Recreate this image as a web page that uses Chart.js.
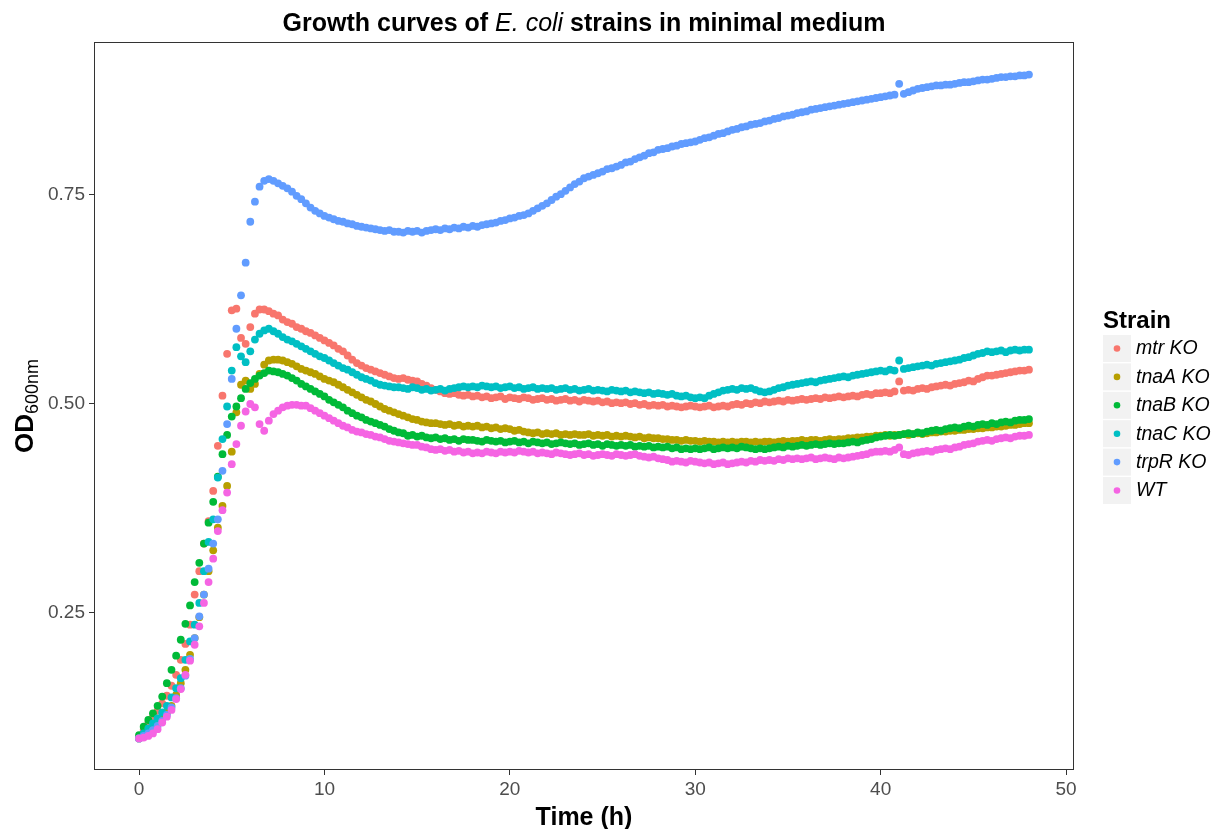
<!DOCTYPE html>
<html>
<head>
<meta charset="utf-8">
<script src="https://cdn.jsdelivr.net/npm/chart.js@4/dist/chart.umd.min.js"></script>
<style>
  body { margin: 0; background: #fff; }
</style>
</head>
<body>
<canvas id="growthChart" width="1222" height="829"></canvas>
<script>
// sampling times (h)
const times = [
  0, 0.25, 0.5, 0.75, 1, 1.25, 1.5, 1.75,
  2, 2.25, 2.5, 2.75, 3, 3.25, 3.5, 3.75,
  4, 4.25, 4.5, 4.75, 5, 5.25, 5.5, 5.75,
  6, 6.25, 6.5, 6.75, 7, 7.25, 7.5, 7.75,
  8, 8.25, 8.5, 8.75, 9, 9.25, 9.5, 9.75,
  10, 10.25, 10.5, 10.75, 11, 11.25, 11.5, 11.75,
  12, 12.25, 12.5, 12.75, 13, 13.25, 13.5, 13.75,
  14, 14.25, 14.5, 14.75, 15, 15.25, 15.5, 15.75,
  16, 16.25, 16.5, 16.75, 17, 17.25, 17.5, 17.75,
  18, 18.25, 18.5, 18.75, 19, 19.25, 19.5, 19.75,
  20, 20.25, 20.5, 20.75, 21, 21.25, 21.5, 21.75,
  22, 22.25, 22.5, 22.75, 23, 23.25, 23.5, 23.75,
  24, 24.25, 24.5, 24.75, 25, 25.25, 25.5, 25.75,
  26, 26.25, 26.5, 26.75, 27, 27.25, 27.5, 27.75,
  28, 28.25, 28.5, 28.75, 29, 29.25, 29.5, 29.75,
  30, 30.25, 30.5, 30.75, 31, 31.25, 31.5, 31.75,
  32, 32.25, 32.5, 32.75, 33, 33.25, 33.5, 33.75,
  34, 34.25, 34.5, 34.75, 35, 35.25, 35.5, 35.75,
  36, 36.25, 36.5, 36.75, 37, 37.25, 37.5, 37.75,
  38, 38.25, 38.5, 38.75, 39, 39.25, 39.5, 39.75,
  40, 40.25, 40.5, 40.75, 41, 41.25, 41.5, 41.75,
  42, 42.25, 42.5, 42.75, 43, 43.25, 43.5, 43.75,
  44, 44.25, 44.5, 44.75, 45, 45.25, 45.5, 45.75,
  46, 46.25, 46.5, 46.75, 47, 47.25, 47.5, 47.75,
  48
];

// OD600 per strain, one value per sampling time
const mtrKO = [
  0.102, 0.110, 0.118, 0.126, 0.133, 0.142, 0.151, 0.163,
  0.176, 0.194, 0.213, 0.236, 0.272, 0.300, 0.333, 0.360,
  0.396, 0.450, 0.510, 0.560, 0.612, 0.614, 0.579, 0.572,
  0.592, 0.608, 0.613, 0.613, 0.611, 0.608, 0.606, 0.601,
  0.598, 0.596, 0.592, 0.590, 0.587, 0.585, 0.582, 0.579,
  0.576, 0.573, 0.570, 0.566, 0.563, 0.558, 0.553, 0.549,
  0.546, 0.543, 0.541, 0.539, 0.537, 0.535, 0.533, 0.531,
  0.530, 0.531, 0.529, 0.528, 0.527, 0.524, 0.522, 0.519,
  0.517, 0.515, 0.513, 0.512, 0.513, 0.511, 0.510, 0.511,
  0.509, 0.510, 0.508, 0.509, 0.507, 0.508, 0.509, 0.506,
  0.508, 0.507, 0.506, 0.508, 0.507, 0.505, 0.506, 0.507,
  0.505, 0.506, 0.504, 0.505, 0.506, 0.504, 0.505, 0.503,
  0.505, 0.504, 0.503, 0.504, 0.502, 0.503, 0.501, 0.502,
  0.501, 0.502, 0.500, 0.501, 0.499, 0.500, 0.498, 0.499,
  0.498, 0.499, 0.497, 0.498, 0.497, 0.496, 0.497, 0.498,
  0.497, 0.496, 0.497, 0.498, 0.496, 0.497, 0.498, 0.497,
  0.499, 0.500, 0.499, 0.501, 0.500, 0.502, 0.501, 0.503,
  0.502, 0.503, 0.504, 0.503, 0.505, 0.504, 0.505, 0.506,
  0.505, 0.506, 0.507, 0.506, 0.508, 0.507, 0.508, 0.509,
  0.508, 0.509, 0.510, 0.509, 0.511, 0.512, 0.511, 0.513,
  0.513, 0.514, 0.513, 0.515, 0.527, 0.516, 0.517, 0.516,
  0.518, 0.519, 0.518, 0.520, 0.521, 0.522, 0.523, 0.522,
  0.524, 0.525, 0.526, 0.528, 0.527, 0.530, 0.532, 0.534,
  0.534, 0.535, 0.536, 0.537, 0.538, 0.539, 0.540, 0.540,
  0.541
];

const tnaAKO = [
  0.100, 0.104, 0.108, 0.113, 0.118, 0.124, 0.131, 0.139,
  0.152, 0.166, 0.182, 0.200, 0.220, 0.245, 0.272, 0.300,
  0.325, 0.352, 0.378, 0.402, 0.443, 0.490, 0.523, 0.528,
  0.518, 0.524, 0.536, 0.547, 0.552, 0.553, 0.553, 0.552,
  0.550, 0.548, 0.545, 0.542, 0.540, 0.538, 0.536, 0.533,
  0.530, 0.528, 0.526, 0.523, 0.520, 0.517, 0.514, 0.511,
  0.508, 0.505, 0.503, 0.500, 0.497, 0.494, 0.492, 0.490,
  0.488, 0.486, 0.484, 0.482, 0.481, 0.479, 0.478, 0.477,
  0.477, 0.476, 0.475, 0.476, 0.474, 0.475, 0.473, 0.474,
  0.473, 0.474, 0.472, 0.473, 0.471, 0.472, 0.470, 0.471,
  0.470, 0.468, 0.469, 0.467, 0.466, 0.465, 0.466, 0.464,
  0.465, 0.464, 0.465, 0.463, 0.464, 0.463, 0.464, 0.463,
  0.463, 0.464, 0.462, 0.463, 0.462, 0.463, 0.461, 0.462,
  0.461, 0.462, 0.461, 0.460, 0.461, 0.459, 0.460, 0.459,
  0.459, 0.458, 0.458, 0.457, 0.457, 0.456, 0.457, 0.456,
  0.456, 0.455, 0.456, 0.455, 0.455, 0.454, 0.455, 0.454,
  0.455, 0.454, 0.455, 0.455, 0.454, 0.455, 0.454, 0.455,
  0.455, 0.454, 0.455, 0.456, 0.455, 0.456, 0.456, 0.457,
  0.456, 0.457, 0.457, 0.456, 0.457, 0.458, 0.457, 0.458,
  0.458, 0.459, 0.459, 0.460, 0.460, 0.461, 0.461, 0.462,
  0.462, 0.463, 0.462, 0.463, 0.463, 0.464, 0.463, 0.464,
  0.465, 0.464, 0.465, 0.466, 0.466, 0.467, 0.467, 0.468,
  0.468, 0.469, 0.469, 0.470, 0.470, 0.471, 0.471, 0.472,
  0.472, 0.473, 0.473, 0.474, 0.475, 0.475, 0.476, 0.477,
  0.477
];

const tnaBKO = [
  0.104, 0.114, 0.122, 0.130, 0.139, 0.150, 0.166, 0.182,
  0.199, 0.218, 0.237, 0.259, 0.287, 0.310, 0.333, 0.358,
  0.383, 0.413, 0.440, 0.463, 0.485, 0.497, 0.507, 0.518,
  0.525, 0.530, 0.534, 0.537, 0.540, 0.539, 0.538, 0.536,
  0.534, 0.531, 0.528, 0.524, 0.521, 0.518, 0.515, 0.512,
  0.509, 0.505, 0.502, 0.499, 0.496, 0.492, 0.489, 0.486,
  0.484, 0.481, 0.479, 0.477, 0.475, 0.473, 0.470, 0.468,
  0.466, 0.465, 0.462, 0.463, 0.461, 0.462, 0.460, 0.459,
  0.460, 0.458, 0.459, 0.457, 0.458, 0.456, 0.458, 0.457,
  0.457, 0.456, 0.455, 0.457, 0.456, 0.455, 0.456, 0.454,
  0.455, 0.456, 0.454, 0.455, 0.453, 0.455, 0.454, 0.453,
  0.454, 0.452, 0.453, 0.454, 0.453, 0.452, 0.453, 0.451,
  0.452, 0.453, 0.451, 0.452, 0.450, 0.452, 0.451, 0.450,
  0.451, 0.450, 0.451, 0.449, 0.450, 0.449, 0.450, 0.448,
  0.449, 0.448, 0.449, 0.447, 0.448, 0.446, 0.447, 0.446,
  0.447, 0.446, 0.447, 0.448, 0.446, 0.447, 0.448, 0.447,
  0.448, 0.447, 0.449, 0.448, 0.447, 0.446, 0.447, 0.446,
  0.447, 0.448, 0.449, 0.448, 0.450, 0.449, 0.450, 0.451,
  0.450, 0.451, 0.452, 0.451, 0.452, 0.453, 0.452, 0.453,
  0.453, 0.454, 0.455, 0.454, 0.456, 0.457, 0.458, 0.460,
  0.461, 0.462, 0.463, 0.462, 0.463, 0.464, 0.465, 0.464,
  0.466, 0.465, 0.467, 0.468, 0.469, 0.468, 0.470, 0.471,
  0.472, 0.471, 0.473, 0.474, 0.473, 0.475, 0.476, 0.475,
  0.477, 0.476, 0.478, 0.479, 0.478, 0.480, 0.481, 0.481,
  0.482
];

const tnaCKO = [
  0.100, 0.106, 0.112, 0.118, 0.124, 0.131, 0.139, 0.149,
  0.160, 0.172, 0.194, 0.216, 0.236, 0.262, 0.300, 0.335,
  0.362, 0.412, 0.458, 0.497, 0.540, 0.568, 0.557, 0.550,
  0.563, 0.577, 0.584, 0.588, 0.590, 0.587, 0.584, 0.580,
  0.577, 0.575, 0.572, 0.569, 0.566, 0.563, 0.560, 0.557,
  0.555, 0.552, 0.549, 0.546, 0.543, 0.541, 0.538, 0.535,
  0.532, 0.530, 0.528, 0.525, 0.523, 0.522, 0.521, 0.520,
  0.520, 0.519, 0.518, 0.520, 0.519, 0.517, 0.518, 0.516,
  0.517, 0.518, 0.516, 0.518, 0.519, 0.520, 0.521, 0.520,
  0.521, 0.520, 0.522, 0.521, 0.520, 0.521, 0.519, 0.520,
  0.521, 0.519, 0.520, 0.518, 0.519, 0.520, 0.518, 0.519,
  0.518, 0.519, 0.517, 0.518, 0.519, 0.517, 0.518, 0.516,
  0.517, 0.518, 0.516, 0.517, 0.516, 0.515, 0.517, 0.516,
  0.515, 0.516, 0.514, 0.515, 0.514, 0.513, 0.514, 0.512,
  0.513, 0.512, 0.511, 0.512, 0.510, 0.509, 0.510, 0.508,
  0.507, 0.508, 0.507, 0.510, 0.512, 0.514, 0.516, 0.517,
  0.518, 0.517, 0.519, 0.518, 0.519, 0.517, 0.515, 0.514,
  0.515, 0.517, 0.519, 0.520, 0.522, 0.523, 0.524, 0.525,
  0.526, 0.527, 0.526, 0.528, 0.529, 0.530, 0.531, 0.532,
  0.533, 0.532, 0.534, 0.535, 0.536, 0.537, 0.538, 0.539,
  0.540, 0.539, 0.541, 0.540, 0.552, 0.542, 0.543, 0.544,
  0.545, 0.546, 0.547, 0.546, 0.548, 0.549, 0.550, 0.551,
  0.552, 0.553, 0.555, 0.556, 0.558, 0.560, 0.561, 0.563,
  0.562, 0.563, 0.564, 0.562, 0.564, 0.565, 0.564, 0.565,
  0.565
];

const trpRKO = [
  0.100, 0.103, 0.106, 0.110, 0.115, 0.121, 0.128, 0.137,
  0.148, 0.160, 0.175, 0.195, 0.220, 0.246, 0.272, 0.303,
  0.333, 0.362, 0.420, 0.476, 0.530, 0.590, 0.630, 0.669,
  0.718, 0.742, 0.760, 0.767, 0.769, 0.767, 0.764, 0.761,
  0.758, 0.754, 0.749, 0.745, 0.740, 0.735, 0.731, 0.728,
  0.725, 0.723, 0.721, 0.719, 0.718, 0.716, 0.715, 0.713,
  0.712, 0.711, 0.710, 0.709, 0.708, 0.707, 0.708, 0.706,
  0.706, 0.705, 0.707, 0.706, 0.707, 0.705, 0.707, 0.708,
  0.709, 0.708, 0.710, 0.709, 0.711, 0.710, 0.712, 0.711,
  0.713, 0.712, 0.714, 0.715, 0.716, 0.717, 0.719, 0.720,
  0.722, 0.723, 0.725, 0.726, 0.728, 0.731, 0.734, 0.737,
  0.740, 0.744, 0.748, 0.751, 0.755, 0.759, 0.763, 0.766,
  0.770, 0.772, 0.774, 0.776, 0.778, 0.781, 0.782, 0.784,
  0.786, 0.789, 0.790, 0.793, 0.795, 0.797, 0.800, 0.801,
  0.804, 0.805, 0.806, 0.808, 0.809, 0.811, 0.812, 0.813,
  0.814, 0.816, 0.818, 0.819, 0.821, 0.823, 0.824, 0.826,
  0.828, 0.829, 0.831, 0.832, 0.834, 0.835, 0.836, 0.838,
  0.839, 0.841, 0.842, 0.844, 0.845, 0.846, 0.848, 0.849,
  0.850, 0.852, 0.853, 0.854, 0.855, 0.856, 0.857, 0.858,
  0.859, 0.860, 0.861, 0.862, 0.863, 0.864, 0.865, 0.866,
  0.867, 0.868, 0.869, 0.870, 0.883, 0.871, 0.873, 0.875,
  0.877, 0.878, 0.879, 0.880, 0.881, 0.881, 0.882, 0.882,
  0.883, 0.884, 0.885, 0.885, 0.886, 0.887, 0.888, 0.888,
  0.889, 0.890, 0.891, 0.891, 0.892, 0.892, 0.893, 0.893,
  0.894
];

const wildType = [
  0.100, 0.101, 0.103, 0.106, 0.111, 0.119, 0.126, 0.134,
  0.147, 0.159, 0.176, 0.193, 0.212, 0.234, 0.262, 0.287,
  0.315, 0.348, 0.373, 0.394, 0.428, 0.452, 0.474, 0.491,
  0.500, 0.496, 0.476, 0.468, 0.480, 0.488, 0.492, 0.496,
  0.498, 0.499, 0.499, 0.498, 0.498, 0.495, 0.492, 0.489,
  0.486, 0.483, 0.480, 0.477, 0.474, 0.472, 0.469, 0.467,
  0.466, 0.464, 0.463, 0.461, 0.460, 0.458, 0.456, 0.455,
  0.454, 0.453, 0.452, 0.451, 0.451, 0.449, 0.448, 0.446,
  0.445, 0.446, 0.444, 0.445, 0.443, 0.444, 0.442, 0.443,
  0.441, 0.442, 0.441, 0.443, 0.442, 0.441, 0.443, 0.442,
  0.443, 0.442, 0.444, 0.443, 0.442, 0.443, 0.441, 0.442,
  0.441, 0.440, 0.442, 0.441, 0.440, 0.439, 0.440, 0.441,
  0.439, 0.440, 0.438, 0.439, 0.440, 0.439, 0.438, 0.440,
  0.439, 0.438, 0.439, 0.440, 0.438, 0.437, 0.436, 0.437,
  0.435, 0.434, 0.433, 0.431, 0.432, 0.431, 0.430, 0.432,
  0.431, 0.430, 0.429, 0.430, 0.428, 0.429, 0.430, 0.428,
  0.429, 0.430, 0.431, 0.430, 0.432, 0.431, 0.433, 0.432,
  0.433, 0.432, 0.434, 0.433, 0.435, 0.434, 0.435, 0.434,
  0.435, 0.436, 0.434, 0.435, 0.436, 0.435, 0.434, 0.436,
  0.435, 0.436, 0.437, 0.438, 0.439, 0.440, 0.442, 0.443,
  0.443, 0.444, 0.443, 0.445, 0.448, 0.440, 0.439, 0.441,
  0.442, 0.443, 0.444, 0.443, 0.445, 0.446, 0.447, 0.446,
  0.448, 0.449, 0.451, 0.452, 0.453, 0.455, 0.456, 0.457,
  0.456, 0.458, 0.459, 0.460, 0.459, 0.461, 0.462, 0.462,
  0.463
];

const strains = ['mtr KO', 'tnaA KO', 'tnaB KO', 'tnaC KO', 'trpR KO', 'WT'];
const strainValues = [mtrKO, tnaAKO, tnaBKO, tnaCKO, trpRKO, wildType];
const strainColors = ['#F8766D', '#B79F00', '#00BA38', '#00BFC4', '#619CFF', '#F564E3'];
const xTicks = [0, 10, 20, 30, 40, 50];
const yTicks = [0.25, 0.5, 0.75];

const FONT = '"Liberation Sans", Arial, Helvetica, sans-serif';
Chart.defaults.font.family = FONT;

// draw a line of text made of differently styled runs, centred on cx
function drawRuns(ctx, runs, cx, y) {
  let total = 0;
  runs.forEach(r => { ctx.font = r.font; total += ctx.measureText(r.text).width; });
  let x = cx - total / 2;
  runs.forEach(r => {
    ctx.font = r.font;
    ctx.fillText(r.text, x, y + (r.dy || 0));
    x += ctx.measureText(r.text).width;
  });
}

const decorations = {
  id: 'decorations',
  afterDraw(chart) {
    const ctx = chart.ctx;
    const a = chart.chartArea;
    ctx.save();

    // panel border
    ctx.strokeStyle = '#333333';
    ctx.lineWidth = 1;
    ctx.strokeRect(a.left + 0.5, a.top + 0.5, a.width - 1, a.height - 1);

    ctx.fillStyle = '#000000';
    ctx.textBaseline = 'alphabetic';
    ctx.textAlign = 'left';

    // title
    drawRuns(ctx, [
      { font: 'bold 25px ' + FONT, text: 'Growth curves of ' },
      { font: 'italic 25px ' + FONT, text: 'E. coli' },
      { font: 'bold 25px ' + FONT, text: ' strains in minimal medium' }
    ], (a.left + a.right) / 2, 31);

    // x axis title
    drawRuns(ctx, [{ font: 'bold 25px ' + FONT, text: 'Time (h)' }], (a.left + a.right) / 2, 825);

    // y axis title with subscript
    ctx.save();
    ctx.translate(33, (a.top + a.bottom) / 2);
    ctx.rotate(-Math.PI / 2);
    drawRuns(ctx, [
      { font: 'bold 26px ' + FONT, text: 'OD' },
      { font: '18px ' + FONT, text: '600nm', dy: 5 }
    ], 0, 0);
    ctx.restore();

    // legend
    ctx.font = 'bold 24px ' + FONT;
    ctx.fillText('Strain', 1103, 328);
    strains.forEach((name, i) => {
      const top = 335 + i * 28.4;
      ctx.fillStyle = '#F2F2F2';
      ctx.fillRect(1103, top, 28, 27);
      ctx.fillStyle = strainColors[i];
      ctx.beginPath();
      ctx.arc(1117, top + 13.5, 3.3, 0, Math.PI * 2);
      ctx.fill();
      ctx.fillStyle = '#000000';
      ctx.font = 'italic 19.5px ' + FONT;
      ctx.textBaseline = 'middle';
      ctx.fillText(name, 1136, top + 14);
      ctx.textBaseline = 'alphabetic';
    });

    ctx.restore();
  }
};

const datasets = strains.map((name, i) => ({
  label: name,
  data: times.map((t, j) => ({ x: t, y: strainValues[i][j] })),
  backgroundColor: strainColors[i],
  borderColor: strainColors[i],
  borderWidth: 0,
  pointRadius: 3.9,
  pointHoverRadius: 3.9,
  showLine: false,
  order: strains.length - 1 - i
}));

const ctx = document.getElementById('growthChart').getContext('2d');

new Chart(ctx, {
  type: 'scatter',
  data: { datasets: datasets },
  options: {
    responsive: false,
    animation: false,
    layout: { padding: { left: 0, right: 148, top: 42, bottom: 0 } },
    plugins: {
      legend: { display: false },
      tooltip: { enabled: false }
    },
    scales: {
      x: {
        type: 'linear',
        min: -2.43,
        max: 50.43,
        afterBuildTicks: s => { s.ticks = xTicks.map(v => ({ value: v })); },
        afterFit: s => { s.height = 59; },
        ticks: {
          color: '#4D4D4D',
          font: { size: 19 },
          padding: 3,
          autoSkip: false,
          maxRotation: 0,
          callback: v => String(v)
        },
        grid: { drawOnChartArea: false, tickLength: 5, tickColor: '#333333', color: '#333333' },
        border: { display: false }
      },
      y: {
        type: 'linear',
        min: 0.0622,
        max: 0.933,
        afterBuildTicks: s => { s.ticks = yTicks.map(v => ({ value: v })); },
        afterFit: s => { s.width = 94; },
        ticks: {
          color: '#4D4D4D',
          font: { size: 19 },
          padding: 4,
          autoSkip: false,
          callback: v => v.toFixed(2)
        },
        grid: { drawOnChartArea: false, tickLength: 5, tickColor: '#333333', color: '#333333' },
        border: { display: false }
      }
    }
  },
  plugins: [decorations]
});
</script>
</body>
</html>
